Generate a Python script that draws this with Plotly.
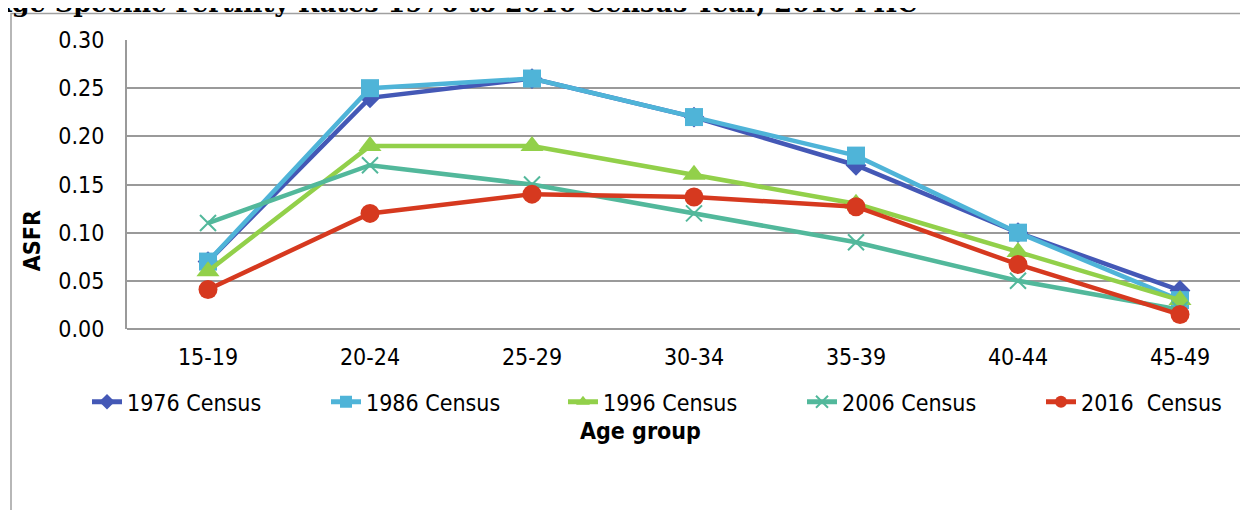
import plotly.graph_objects as go

age_groups = ["15-19", "20-24", "25-29", "30-34", "35-39", "40-44", "45-49"]
asfr_1976 = [0.07, 0.24, 0.26, 0.22, 0.17, 0.10, 0.04]
asfr_1986 = [0.07, 0.25, 0.26, 0.22, 0.18, 0.10, 0.03]
asfr_1996 = [0.06, 0.19, 0.19, 0.16, 0.13, 0.08, 0.03]
asfr_2006 = [0.11, 0.17, 0.15, 0.12, 0.09, 0.05, 0.02]
asfr_2016 = [0.041, 0.12, 0.14, 0.137, 0.127, 0.067, 0.015]
series_names = ["1976 Census", "1986 Census", "1996 Census", "2006 Census", "2016  Census"]
y_ticks = [0.00, 0.05, 0.10, 0.15, 0.20, 0.25, 0.30]

# page body has an 8px margin: work in window pixels and convert
OFF = 8
W, H = 1248 - OFF, 510 - OFF
plot_left, plot_right, plot_top, plot_bottom = 127, 1248, 39.5, 329
L = plot_left - OFF
R = W - (plot_right - OFF)
T = plot_top - OFF
B = H - (plot_bottom - OFF)

def px_x(wx):
    return (wx - plot_left) / (plot_right - plot_left)

def px_y(wy):
    return (plot_bottom - wy) / (plot_bottom - plot_top)

step = 162.0
x_hi = -0.5 + (plot_right - plot_left) / step

styles = [
    dict(color="#4458B6", symbol="diamond", size=16, lw=0),
    dict(color="#4FB4D8", symbol="square", size=18, lw=0),
    dict(color="#92D04A", symbol="triangle-up", size=20, lw=0),
    dict(color="#52B89B", symbol="x-thin", size=16, lw=2),
    dict(color="#D6391F", symbol="circle", size=19, lw=0),
]
data = [asfr_1976, asfr_1986, asfr_1996, asfr_2006, asfr_2016]
legend_text_x = [127, 366, 603, 842, 1081]

font_family = "DejaVu Sans Condensed, DejaVu Sans, sans-serif"
FS = 23

fig = go.Figure()
legend_layouts = {}
for i, (name, vals, st) in enumerate(zip(series_names, data, styles)):
    lg = "legend" if i == 0 else f"legend{i + 1}"
    fig.add_trace(go.Scatter(
        x=age_groups, y=vals, name=name, mode="lines+markers", legend=lg,
        line=dict(color=st["color"], width=4.5),
        marker=dict(symbol=st["symbol"], size=st["size"], color=st["color"],
                    line=dict(color=st["color"], width=st["lw"])),
    ))
    legend_layouts[lg] = dict(orientation="h", x=px_x(legend_text_x[i] - 40), xanchor="left",
                              y=px_y(402), yanchor="middle", font=dict(size=FS),
                              itemsizing="constant", bgcolor="rgba(0,0,0,0)")

fig.update_layout(
    width=W, height=H,
    margin=dict(l=L, r=R, t=T, b=B, pad=0),
    plot_bgcolor="white", paper_bgcolor="white",
    font=dict(family=font_family, size=FS, color="black"),
    showlegend=True,
    xaxis=dict(range=[-0.5, x_hi], showgrid=False, showline=False,
               ticks="", tickfont=dict(size=FS), ticklabelstandoff=12),
    yaxis=dict(range=[0, 0.30], tickvals=y_ticks, tickformat=".2f",
               showgrid=True, gridcolor="#9A9A9A", gridwidth=2,
               showline=True, linecolor="#9A9A9A", linewidth=2,
               zeroline=True, zerolinecolor="#9A9A9A", zerolinewidth=2,
               ticks="", tickfont=dict(size=FS), ticklabelstandoff=16),
    **legend_layouts,
)

fig.add_annotation(text="<b>ASFR</b>", x=px_x(32), y=px_y(241), xref="paper", yref="paper",
                   showarrow=False, font=dict(size=FS), textangle=-90,
                   xanchor="center", yanchor="middle")
fig.add_annotation(text="<b>Age group</b>", x=px_x(640), y=px_y(431), xref="paper", yref="paper",
                   showarrow=False, font=dict(size=FS), xanchor="center", yanchor="middle")
fig.add_annotation(text="<b>Age Specific Fertility Rates 1976 to 2016 Census Year, 2016 PHC</b>",
                   x=px_x(-11), y=px_y(2), xref="paper", yref="paper", showarrow=False,
                   font=dict(size=25.5, family="DejaVu Serif, serif"),
                   xanchor="left", yanchor="middle")
fig.add_shape(type="rect", xref="paper", yref="paper",
              x0=px_x(11), y0=px_y(560), x1=px_x(1290), y1=px_y(13),
              line=dict(color="#A0A0A0", width=1.5), fillcolor="rgba(0,0,0,0)", layer="below")

fig.write_html("out.html")
